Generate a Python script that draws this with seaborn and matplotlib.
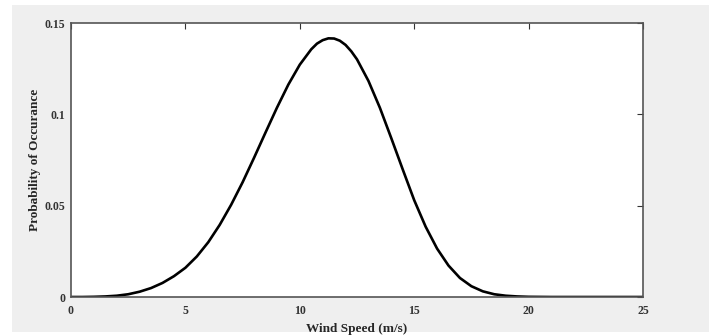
import matplotlib
matplotlib.use("Agg")
import matplotlib.pyplot as plt
from matplotlib.patches import Rectangle
import seaborn as sns
import pandas as pd

# wind speed (m/s) and probability
wind_speed = [0, 0.5, 1, 1.5, 2, 2.5, 3, 3.5, 4, 4.5, 5, 5.5, 6, 6.5, 7, 7.5,
              8, 8.5, 9, 9.5, 10, 10.5, 10.75, 11, 11.25, 11.5, 11.75, 12,
              12.25, 12.5, 13, 13.5, 14, 14.5, 15, 15.5, 16, 16.5, 17, 17.5,
              18, 18.5, 19, 19.5, 20, 21, 22, 23, 24, 25]
probability = [0, 0.0000, 0.0001, 0.0003, 0.0007, 0.0015, 0.0029, 0.0049,
               0.0077, 0.0114, 0.0160, 0.0222, 0.0300, 0.0395, 0.0505, 0.0628,
               0.0762, 0.0900, 0.1036, 0.1163, 0.1272, 0.1356, 0.1387, 0.1406,
               0.1416, 0.1415, 0.1403, 0.1380, 0.1345, 0.1301, 0.1183, 0.1036,
               0.0869, 0.0698, 0.0530, 0.0385, 0.0265, 0.0172, 0.0104, 0.0059,
               0.0031, 0.0015, 0.0007, 0.0003, 0.0001, 0, 0, 0, 0, 0]

xticks = [0, 5, 10, 15, 20, 25]
yticks = [0, 0.05, 0.1, 0.15]
ytick_labels = ["0", "0.05", "0.1", "0.15"]

sns.set_style("white")
plt.rcParams['font.family'] = ['Liberation Serif', 'DejaVu Serif']
plt.rcParams['font.weight'] = 'bold'

df = pd.DataFrame({"speed": wind_speed, "prob": probability})

fig = plt.figure(figsize=(7.09, 3.35), dpi=100)
fig.patch.set_facecolor("white")
# gray MATLAB-like window panel, kept behind the axes
fig.patches.append(Rectangle((12 / 709, 3 / 335), 697 / 709, 327 / 335,
                             transform=fig.transFigure, facecolor="#efefef",
                             edgecolor="none", zorder=-10))

ax = fig.add_axes([71 / 709, 38 / 335, 572 / 709, 274 / 335])
ax.set_facecolor("white")
sns.lineplot(data=df, x="speed", y="prob", ax=ax, color="black", linewidth=1.9,
             solid_joinstyle="round")

ax.set_xlim(0, 25)
ax.set_ylim(0, 0.15)
ax.set_xticks(xticks)
ax.set_xticklabels([str(t) for t in xticks])
ax.set_yticks(yticks)
ax.set_yticklabels(ytick_labels)
ax.tick_params(direction="in", length=4, width=0.8, top=True, right=True,
               labelsize=8.5, colors="#333333")
ax.tick_params(axis="x", pad=6)
ax.tick_params(axis="y", pad=4)
for side in ax.spines.values():
    side.set_color("#555555")
    side.set_linewidth(1.2)

ax.set_xlabel("Wind Speed (m/s)", fontsize=9.5, fontweight="bold", labelpad=4)
ax.set_ylabel("Probability of Occurance", fontsize=9.5, fontweight="bold", labelpad=3)

fig.savefig("out.png", dpi=100)
